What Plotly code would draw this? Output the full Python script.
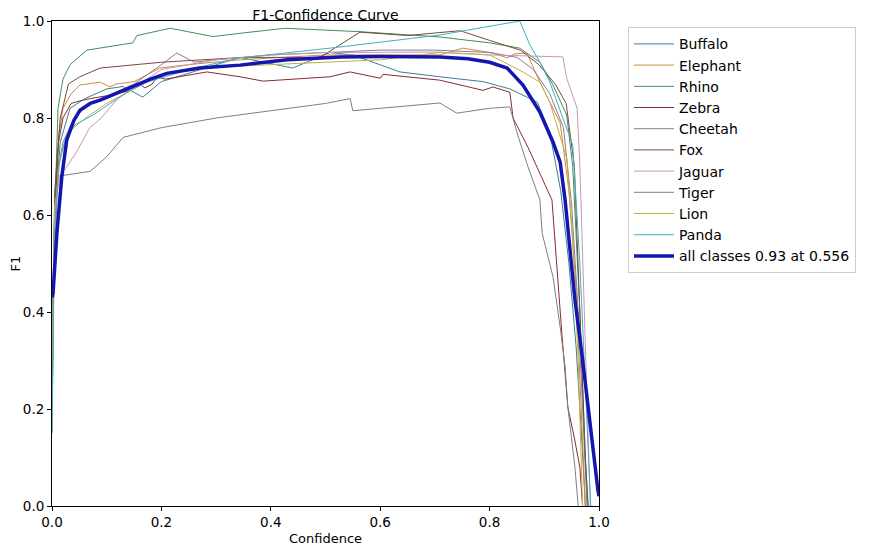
import plotly.graph_objects as go

# ---- data (confidence, F1) ----
buffalo_x = [0.0, 0.005, 0.015, 0.033, 0.06, 0.1, 0.13, 0.166, 0.2, 0.3, 0.344, 0.44, 0.508, 0.55, 0.636, 0.709, 0.788, 0.837, 0.887, 0.91, 0.93, 0.945, 0.958, 0.968, 0.975]
buffalo_y = [0.3, 0.6, 0.75, 0.82, 0.84, 0.86, 0.865, 0.843, 0.875, 0.91, 0.925, 0.903, 0.935, 0.93, 0.895, 0.885, 0.875, 0.86, 0.833, 0.77, 0.65, 0.5, 0.33, 0.15, 0.0]

elephant_x = [0.0, 0.005, 0.012, 0.02, 0.035, 0.051, 0.088, 0.106, 0.117, 0.15, 0.197, 0.25, 0.344, 0.5, 0.6, 0.709, 0.751, 0.806, 0.832, 0.845, 0.868, 0.892, 0.929, 0.945, 0.958, 0.968, 0.975]
elephant_y = [0.35, 0.62, 0.76, 0.82, 0.85, 0.868, 0.874, 0.864, 0.87, 0.875, 0.903, 0.91, 0.92, 0.93, 0.93, 0.93, 0.944, 0.934, 0.924, 0.932, 0.934, 0.874, 0.79, 0.65, 0.45, 0.2, 0.0]

rhino_x = [0.0, 0.005, 0.011, 0.02, 0.033, 0.064, 0.148, 0.155, 0.216, 0.294, 0.362, 0.426, 0.563, 0.709, 0.8, 0.855, 0.892, 0.915, 0.941, 0.952, 0.965, 0.975, 0.98]
rhino_y = [0.2, 0.6, 0.82, 0.88, 0.91, 0.94, 0.955, 0.97, 0.985, 0.968, 0.977, 0.985, 0.978, 0.967, 0.955, 0.944, 0.915, 0.87, 0.806, 0.7, 0.4, 0.1, 0.0]

zebra_x = [0.0, 0.005, 0.012, 0.02, 0.035, 0.05, 0.07, 0.106, 0.137, 0.157, 0.17, 0.183, 0.193, 0.207, 0.283, 0.344, 0.386, 0.508, 0.545, 0.6, 0.605, 0.709, 0.788, 0.806, 0.837, 0.843, 0.87, 0.895, 0.914, 0.932, 0.943, 0.955, 0.965, 0.97]
zebra_y = [0.3, 0.6, 0.75, 0.8, 0.83, 0.835, 0.84, 0.847, 0.855, 0.872, 0.862, 0.87, 0.885, 0.88, 0.895, 0.885, 0.876, 0.885, 0.895, 0.882, 0.89, 0.878, 0.857, 0.864, 0.853, 0.8, 0.74, 0.68, 0.631, 0.357, 0.204, 0.14, 0.08, 0.0]

cheetah_x = [0.0, 0.005, 0.012, 0.02, 0.04, 0.07, 0.1, 0.15, 0.2, 0.228, 0.26, 0.3, 0.4, 0.5, 0.6, 0.7, 0.8, 0.85, 0.88, 0.91, 0.935, 0.95, 0.962, 0.972, 0.978]
cheetah_y = [0.3, 0.6, 0.7, 0.75, 0.8, 0.83, 0.845, 0.87, 0.91, 0.934, 0.915, 0.92, 0.93, 0.935, 0.94, 0.94, 0.935, 0.925, 0.9, 0.85, 0.78, 0.62, 0.4, 0.15, 0.0]

fox_x = [0.0, 0.005, 0.015, 0.03, 0.051, 0.088, 0.2, 0.35, 0.49, 0.563, 0.65, 0.746, 0.8, 0.856, 0.89, 0.92, 0.94, 0.955, 0.965, 0.975, 0.98]
fox_y = [0.3, 0.65, 0.8, 0.87, 0.885, 0.903, 0.915, 0.925, 0.925, 0.977, 0.97, 0.98, 0.96, 0.94, 0.91, 0.87, 0.83, 0.7, 0.4, 0.1, 0.0]

jaguar_x = [0.0, 0.005, 0.015, 0.027, 0.045, 0.069, 0.09, 0.12, 0.16, 0.2, 0.3, 0.4, 0.5, 0.6, 0.709, 0.8, 0.934, 0.941, 0.96, 0.965, 0.972, 0.978, 0.984]
jaguar_y = [0.3, 0.62, 0.68, 0.7, 0.73, 0.78, 0.8, 0.84, 0.87, 0.9, 0.92, 0.93, 0.935, 0.935, 0.936, 0.93, 0.926, 0.882, 0.82, 0.703, 0.45, 0.2, 0.0]

tiger_x = [0.0, 0.004, 0.011, 0.07, 0.1, 0.13, 0.2, 0.3, 0.4, 0.5, 0.545, 0.55, 0.7, 0.709, 0.74, 0.8, 0.837, 0.85, 0.87, 0.892, 0.896, 0.916, 0.929, 0.938, 0.943, 0.956, 0.962]
tiger_y = [0.15, 0.5, 0.68, 0.69, 0.72, 0.76, 0.78, 0.8, 0.815, 0.83, 0.84, 0.815, 0.83, 0.831, 0.81, 0.82, 0.823, 0.77, 0.7, 0.631, 0.563, 0.472, 0.369, 0.287, 0.204, 0.08, 0.0]

lion_x = [0.0, 0.005, 0.015, 0.03, 0.05, 0.069, 0.1, 0.15, 0.2, 0.3, 0.4, 0.52, 0.6, 0.709, 0.8, 0.861, 0.892, 0.91, 0.941, 0.952, 0.962, 0.97]
lion_y = [0.3, 0.6, 0.72, 0.77, 0.79, 0.806, 0.83, 0.86, 0.89, 0.905, 0.91, 0.915, 0.92, 0.935, 0.93, 0.895, 0.874, 0.833, 0.717, 0.55, 0.3, 0.0]

panda_x = [0.0, 0.004, 0.012, 0.025, 0.042, 0.075, 0.137, 0.174, 0.25, 0.344, 0.508, 0.709, 0.855, 0.874, 0.892, 0.91, 0.952, 0.965, 0.975, 0.985]
panda_y = [0.15, 0.55, 0.7, 0.76, 0.786, 0.806, 0.853, 0.874, 0.9, 0.924, 0.944, 0.971, 1.0, 0.95, 0.915, 0.874, 0.744, 0.5, 0.25, 0.0]

mean_x = [0.0, 0.002, 0.009, 0.018, 0.027, 0.04, 0.051, 0.07, 0.088, 0.12, 0.148, 0.18, 0.21, 0.27, 0.344, 0.43, 0.527, 0.6, 0.709, 0.76, 0.8, 0.832, 0.861, 0.892, 0.916, 0.929, 0.938, 0.956, 0.968, 0.978, 0.99, 0.998, 1.0]
mean_y = [0.43, 0.44, 0.563, 0.68, 0.755, 0.795, 0.816, 0.83, 0.837, 0.852, 0.864, 0.88, 0.892, 0.903, 0.909, 0.92, 0.926, 0.927, 0.926, 0.922, 0.915, 0.903, 0.868, 0.812, 0.75, 0.709, 0.631, 0.425, 0.32, 0.219, 0.1, 0.033, 0.02]

class_names = ["Buffalo", "Elephant", "Rhino", "Zebra", "Cheetah", "Fox", "Jaguar", "Tiger", "Lion", "Panda"]
class_x = [buffalo_x, elephant_x, rhino_x, zebra_x, cheetah_x, fox_x, jaguar_x, tiger_x, lion_x, panda_x]
class_y = [buffalo_y, elephant_y, rhino_y, zebra_y, cheetah_y, fox_y, jaguar_y, tiger_y, lion_y, panda_y]
colors = ["#3a7f9a", "#d08a3a", "#3f8f55", "#8a2a35", "#8a7a9a",
          "#7a4a40", "#c896b4", "#808080", "#c0b040", "#40b0c0"]
mean_label = "all classes 0.93 at 0.556"

fig = go.Figure()
for name, xs, ys, c in zip(class_names, class_x, class_y, colors):
    fig.add_trace(go.Scatter(x=xs, y=ys, mode="lines", name=name,
                             line=dict(color=c, width=1)))
fig.add_trace(go.Scatter(x=mean_x, y=mean_y, mode="lines", name=mean_label,
                         line=dict(color="#1515b0", width=3.5)))

font = "DejaVu Sans, sans-serif"
axis_common = dict(showgrid=False, zeroline=False, showline=True, mirror=True,
                   linecolor="black", linewidth=1, ticks="outside", ticklen=4,
                   tickcolor="black", tickfont=dict(size=13.5, color="black", family=font),
                   tickformat=".1f", dtick=0.2, automargin=False)
W, H = 867, 538
# the page body adds an 8px offset, so the figure is sized to end at the window edge
fig.update_layout(
    width=W, height=H,
    margin=dict(l=44, r=276, t=13, b=40, autoexpand=False),
    paper_bgcolor="white", plot_bgcolor="white",
    title=dict(text="F1-Confidence Curve", x=(44 + 591) / 2 / W, xanchor="center",
               yref="container", y=1 - 11.5 / H, yanchor="bottom", pad=dict(t=0, b=0),
               font=dict(size=14, color="black", family=font), automargin=False),
    xaxis=dict(range=[0, 1], title=dict(text="Confidence", standoff=5,
               font=dict(size=13, color="black", family=font)), **axis_common),
    yaxis=dict(range=[0, 1], title=dict(text="F1", standoff=0,
               font=dict(size=13, color="black", family=font)), **axis_common),
    legend=dict(x=1.053, y=0.987, xanchor="left", yanchor="top",
                bordercolor="#cccccc", borderwidth=1, bgcolor="white",
                font=dict(size=14, color="black", family=font),
                itemwidth=40, tracegroupgap=0),
    showlegend=True,
)
fig.write_html("out.html")
